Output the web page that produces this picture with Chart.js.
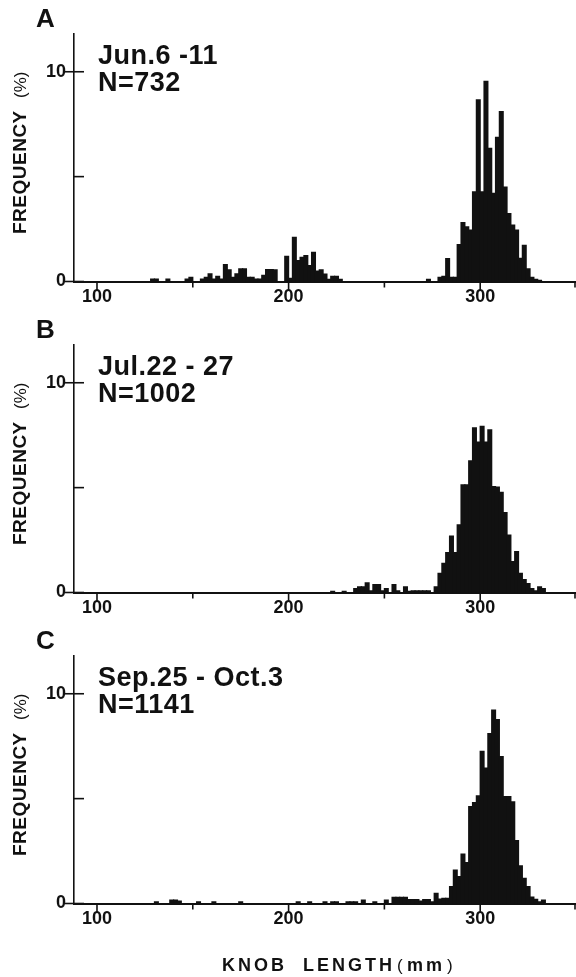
<!DOCTYPE html>
<html>
<head>
<meta charset="utf-8">
<script src="https://cdn.jsdelivr.net/npm/chart.js@4.4.1/dist/chart.umd.min.js"></script>
<style>
  body { margin: 0; background: #fff; }
  #page { position: relative; width: 576px; height: 977px; overflow: hidden; background: #fff; }
  canvas { position: absolute; left: 0; }
</style>
</head>
<body>
<div id="page">
  <canvas id="chartA" width="576" height="311" style="top:0px"></canvas>
  <canvas id="chartB" width="576" height="311" style="top:311px"></canvas>
  <canvas id="chartC" width="576" height="355" style="top:622px"></canvas>
</div>
<script>
const INK = '#111111';
const FONT = '"Liberation Sans", Arial, Helvetica, sans-serif';

// axis ticks
const xTicks = [100, 150, 200, 250, 300, 350];
const xLabelled = [100, 200, 300];
const yTicks = [0, 5, 10];
const yLabelled = [0, 10];

// A: Jun.6 - 11, N=732  (bin centres in mm, frequency in %)
const lengthsA = [129, 131, 137, 147, 149, 155, 157, 159, 161, 163, 165, 167, 169, 171, 173,
  175, 177, 179, 181, 183, 185, 187, 189, 191, 193, 199, 201, 203, 205, 207, 209, 211, 213, 215, 217,
  219, 221, 223, 225, 227, 273, 279, 281, 283, 285, 287, 289, 291, 293, 295,
  297, 299, 301, 303, 305, 307, 309, 311, 313, 315, 317, 319, 321, 323, 325, 327, 329, 331];
const freqA = [0.11, 0.11, 0.11, 0.11, 0.2, 0.11, 0.2, 0.37, 0.11, 0.24, 0.11, 0.8, 0.56, 0.2, 0.37,
  0.6, 0.6, 0.2, 0.2, 0.11, 0.11, 0.29, 0.57, 0.57, 0.56, 1.2, 0.15, 2.1, 1.0, 1.15, 1.23, 0.76, 1.39, 0.5, 0.55,
  0.35, 0.1, 0.24, 0.24, 0.1, 0.1, 0.2, 0.25, 1.09, 0.2, 0.2, 1.76, 2.81, 2.6, 2.45,
  4.28, 8.66, 4.28, 9.54, 6.35, 4.2, 6.87, 8.1, 4.5, 3.24, 2.69, 2.45, 1.1, 1.72, 0.6, 0.2, 0.1, 0.05];

// B: Jul.22 - 27, N=1002
const lengthsB = [223, 229, 235, 237, 239, 241, 243, 245, 247, 249, 251, 255, 257, 261, 263,
  265, 267, 269, 271, 273, 277, 279, 281, 283, 285, 287, 289, 291, 293, 295,
  297, 299, 301, 303, 305, 307, 309, 311, 313, 315, 317, 319, 321, 323, 325, 327, 329, 331, 333];
const freqB = [0.06, 0.06, 0.19, 0.27, 0.27, 0.46, 0.08, 0.38, 0.38, 0.08, 0.19, 0.38, 0.08, 0.27, 0.06,
  0.08, 0.08, 0.08, 0.08, 0.08, 0.27, 0.91, 1.39, 1.9, 2.69, 1.9, 3.22, 5.13, 5.13, 6.28,
  7.85, 7.17, 7.92, 7.17, 7.76, 5.05, 5.02, 4.77, 3.81, 2.74, 1.47, 1.95, 0.91, 0.62, 0.43, 0.19, 0.08, 0.27, 0.19];

// C: Sep.25 - Oct.3, N=1141
const lengthsC = [131, 139, 141, 143, 153, 161, 175, 205, 211, 219, 223, 225, 231, 233, 235,
  239, 245, 251, 255, 257, 259, 261, 263, 265, 267, 269, 271, 273, 275, 277,
  279, 281, 283, 285, 287, 289, 291, 293, 295, 297, 299, 301, 303, 305, 307,
  309, 311, 313, 315, 317, 319, 321, 323, 325, 327, 329, 331, 333];
const freqC = [0.08, 0.16, 0.16, 0.11, 0.08, 0.08, 0.08, 0.08, 0.08, 0.08, 0.08, 0.08, 0.08, 0.08, 0.08,
  0.16, 0.08, 0.16, 0.29, 0.29, 0.29, 0.29, 0.19, 0.19, 0.19, 0.11, 0.19, 0.19, 0.08, 0.48,
  0.21, 0.24, 0.24, 0.8, 1.59, 1.28, 2.36, 1.95, 4.62, 4.81, 5.13, 7.25, 6.45, 8.1, 9.22,
  8.77, 7.0, 5.1, 5.1, 4.85, 3.0, 1.8, 1.2, 0.8, 0.3, 0.2, 0.08, 0.16];

const panels = [
  { id: 'chartA', letter: 'A', dates: 'Jun.6 -11', count: 'N=732', lengths: lengthsA, freq: freqA, xHeight: 29.5, xTitle: false },
  { id: 'chartB', letter: 'B', dates: 'Jul.22 - 27', count: 'N=1002', lengths: lengthsB, freq: freqB, xHeight: 29.5, xTitle: false },
  { id: 'chartC', letter: 'C', dates: 'Sep.25 - Oct.3', count: 'N=1141', lengths: lengthsC, freq: freqC, xHeight: 73.5, xTitle: true }
];

// tick marks, panel letter, date/N labels and axis titles
const panelDecor = {
  id: 'panelDecor',
  afterDraw(chart, args, opts) {
    const ctx = chart.ctx;
    const xs = chart.scales.x;
    const ys = chart.scales.y;
    const area = chart.chartArea;
    ctx.save();
    ctx.strokeStyle = INK;
    ctx.lineWidth = 1.6;

    // y ticks point into the plot
    yTicks.forEach(function(v) {
      const py = ys.getPixelForValue(v);
      const x0 = yLabelled.includes(v) ? area.left - 9 : area.left;
      ctx.beginPath();
      ctx.moveTo(x0, py);
      ctx.lineTo(area.left + 10, py);
      ctx.stroke();
    });

    // x ticks point down, longer where labelled
    xTicks.forEach(function(v) {
      const px = Math.min(xs.getPixelForValue(v), area.right - 1);
      const len = xLabelled.includes(v) ? 9 : 6;
      ctx.beginPath();
      ctx.moveTo(px, area.bottom);
      ctx.lineTo(px, area.bottom + len);
      ctx.stroke();
    });

    ctx.fillStyle = INK;
    ctx.textAlign = 'left';
    ctx.textBaseline = 'alphabetic';

    ctx.font = 'bold 26px ' + FONT;
    ctx.fillText(opts.letter, 36, 27);

    ctx.font = 'bold 27px ' + FONT;
    ctx.letterSpacing = '0.5px';
    ctx.fillText(opts.dates, 98, 64);
    ctx.fillText(opts.count, 98, 91);
    ctx.letterSpacing = '0px';

    // y title, reading upward
    ctx.save();
    ctx.translate(26, 234);
    ctx.rotate(-Math.PI / 2);
    ctx.letterSpacing = '0.5px';
    ctx.font = 'bold 19px ' + FONT;
    ctx.fillText('FREQUENCY', 0, 0);
    ctx.letterSpacing = '0px';
    ctx.font = '17px ' + FONT;
    ctx.fillText('(%)', 136, 0);
    ctx.restore();

    if (opts.xTitle) {
      ctx.letterSpacing = '3px';
      ctx.font = 'bold 18px ' + FONT;
      ctx.fillText('KNOB  LENGTH', 222, 349);
      ctx.font = '17px ' + FONT;
      ctx.fillText('(', 397, 349);
      ctx.font = 'bold 18px ' + FONT;
      ctx.fillText('mm', 407, 349);
      ctx.font = '17px ' + FONT;
      ctx.fillText(')', 447, 349);
      ctx.letterSpacing = '0px';
    }
    ctx.restore();
  }
};

function makeChart(p) {
  const points = p.lengths.map(function(len, i) { return { x: len, y: p.freq[i] }; });
  return new Chart(document.getElementById(p.id), {
    type: 'bar',
    data: {
      datasets: [{
        data: points,
        backgroundColor: INK,
        borderWidth: 0,
        inflateAmount: 0.6,
        barPercentage: 1,
        categoryPercentage: 1
      }]
    },
    options: {
      responsive: false,
      animation: false,
      events: [],
      layout: { padding: { top: 34, right: 0, bottom: 0, left: 0 } },
      plugins: {
        legend: { display: false },
        tooltip: { enabled: false },
        panelDecor: { letter: p.letter, dates: p.dates, count: p.count, xTitle: p.xTitle }
      },
      scales: {
        x: {
          type: 'linear',
          min: 88,
          max: 350,
          offset: false,
          afterBuildTicks: function(s) { s.ticks = xTicks.map(function(v) { return { value: v }; }); },
          afterFit: function(s) { s.height = p.xHeight; s.paddingLeft = 0; s.paddingRight = 0; },
          grid: { display: false, drawTicks: false },
          border: { display: true, color: INK, width: 2 },
          ticks: {
            padding: 5,
            color: INK,
            autoSkip: false,
            maxRotation: 0,
            font: { family: FONT, size: 18, weight: 'bold' },
            callback: function(v) { return xLabelled.includes(v) ? String(v) : ''; }
          }
        },
        y: {
          min: 0,
          max: 11.8,
          afterBuildTicks: function(s) { s.ticks = yTicks.map(function(v) { return { value: v }; }); },
          afterFit: function(s) { s.width = 74; },
          grid: { display: false, drawTicks: false },
          border: { display: true, color: INK, width: 1.6 },
          ticks: {
            padding: 8,
            color: INK,
            font: { family: FONT, size: 18, weight: 'bold' },
            callback: function(v) { return yLabelled.includes(v) ? String(v) : ''; }
          }
        }
      }
    },
    plugins: [panelDecor]
  });
}

panels.forEach(makeChart);
</script>
</body>
</html>
